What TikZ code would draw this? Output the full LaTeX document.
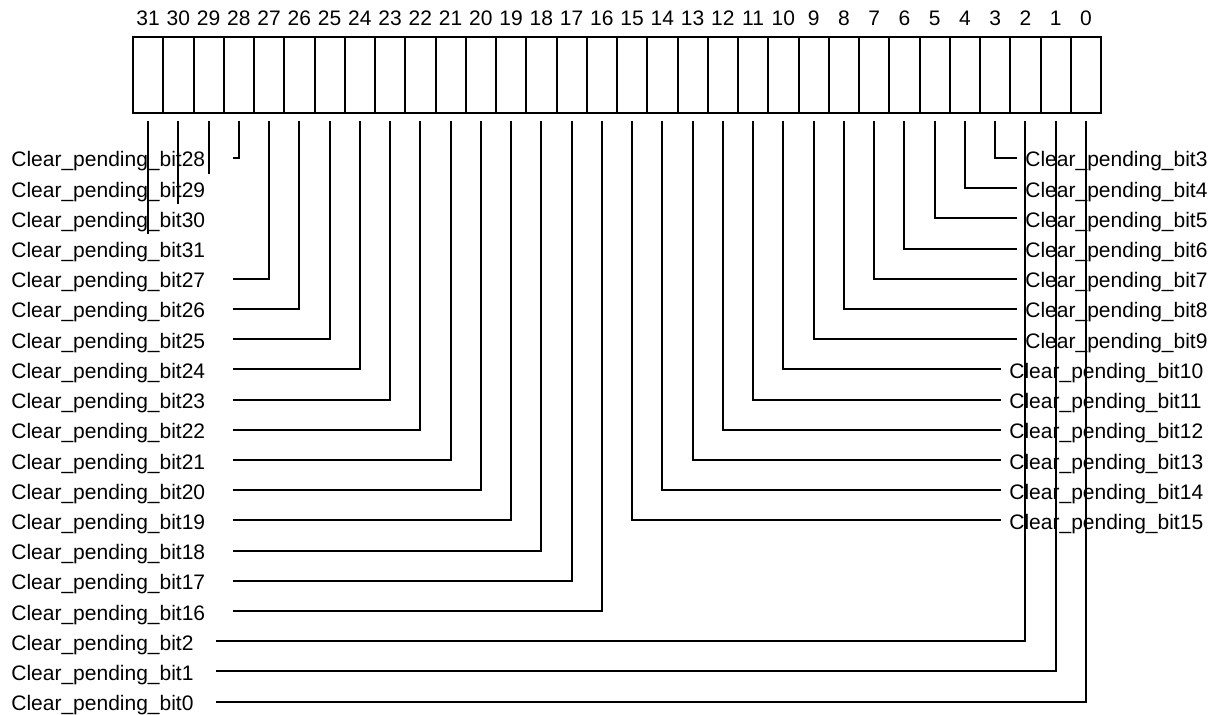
\documentclass[tikz,border=0pt]{standalone}
\usepackage{fontspec}
\setmainfont{Liberation Sans}
\usepackage{tikz}
\usetikzlibrary{calc}

\begin{document}
\begin{tikzpicture}[x=0.5pt,y=-0.5pt,
    cell/.style={draw,line width=1pt,minimum width=15.125pt,minimum height=38pt,inner sep=0pt},
    wire/.style={line width=1pt},
    lbl/.style={font=\fontsize{10.5}{12}\selectfont,text height=9pt,text depth=0pt,inner xsep=0pt,inner ysep=0pt},
    leftlbl/.style={lbl,anchor=west,text width=110.5pt,align=left},
    leftlow/.style={lbl,anchor=west,text width=102pt,align=left},
    rightlbl/.style={lbl,anchor=west,inner xsep=4pt}]
    \useasboundingbox (0,0) rectangle (1218,715);
    % register cells and bit numbers
    \foreach \b in {0,...,31}{
        \node[cell] (c\b) at ({133+(31-\b+0.5)*30.25},75) {};
        \node[lbl,anchor=base] (n\b) at ([yshift=5pt]c\b.north) {\b};
    }
    % labels on the left
    \foreach \b [count=\k from 0] in {28,29,30,31,27,26,25,24,23,22,21,20,19,18,17,16}
        \node[leftlbl] (l\b) at (11,{158+30.2*\k}) {Clear\_pending\_bit\b};
    \foreach \b [count=\k from 16] in {2,1,0}
        \node[leftlow] (l\b) at (11,{158+30.2*\k}) {Clear\_pending\_bit\b};
    % labels on the right
    \foreach \b [count=\k from 0] in {3,4,5,6,7,8,9}
        \node[rightlbl] (l\b) at (1017,{158+30.2*\k}) {Clear\_pending\_bit\b};
    \foreach \b [count=\k from 7] in {10,11,12,13,14,15}
        \node[rightlbl] (l\b) at (1001,{158+30.2*\k}) {Clear\_pending\_bit\b};
    % wires
    \foreach \b in {28,27,26,25,24,23,22,21,20,19,18,17,16,2,1,0}
        \draw[wire] ([yshift=-3.5pt]c\b.south) |- (l\b.east);
    \foreach \b in {3,4,5,6,7,8,9,10,11,12,13,14,15}
        \draw[wire] ([yshift=-3.5pt]c\b.south) |- (l\b.west);
    \foreach \b/\y in {29/174,30/204,31/234}{
        \coordinate (e\b) at (c\b.south |- 0,\y);
        \draw[wire] ([yshift=-3.5pt]c\b.south) -- (e\b);
    }
\end{tikzpicture}
\end{document}
